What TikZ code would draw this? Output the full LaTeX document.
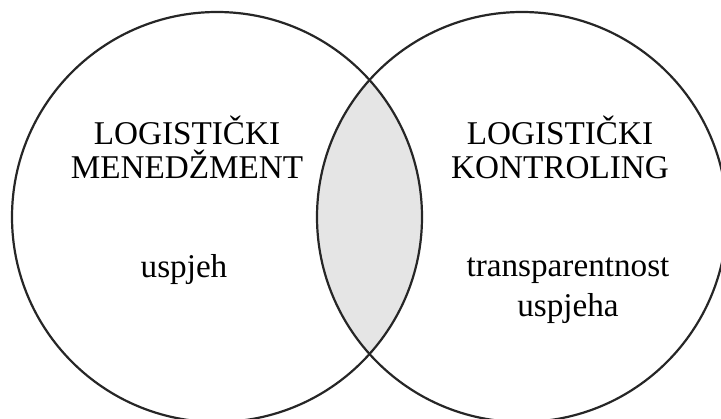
\documentclass[tikz,border=0pt]{standalone}
\usepackage{fontspec}
\setmainfont{Liberation Serif}
\usepackage{xcolor}
\usetikzlibrary{calc}

\begin{document}
\begin{tikzpicture}[x=0.5pt, y=0.5pt, every node/.style={font=\fontsize{16.6}{17}\selectfont, align=center}]
  \useasboundingbox (0,0) rectangle (721,418);
  \clip (0,0) rectangle (721,418);
  \coordinate (menedzment) at (217,201);
  \coordinate (kontroling) at (522,201);
  % shaded overlap
  \begin{scope}
    \clip (menedzment) circle (205);
    \fill[black!10] (kontroling) circle (205);
  \end{scope}
  \draw[line width=1.1pt, black!85] (menedzment) circle (205);
  \draw[line width=1.1pt, black!85] (kontroling) circle (205);
  \node (menTitle) at (187,271) {LOGISTIČKI\\MENEDŽMENT};
  \node (konTitle) at (560,271) {LOGISTIČKI\\KONTROLING};
  \node (menText) at (184,148.5) {uspjeh};
  \node[font=\fontsize{16.6}{20}\selectfont] (konText) at (568,127.5) {transparentnost\\uspjeha};
\end{tikzpicture}
\end{document}
